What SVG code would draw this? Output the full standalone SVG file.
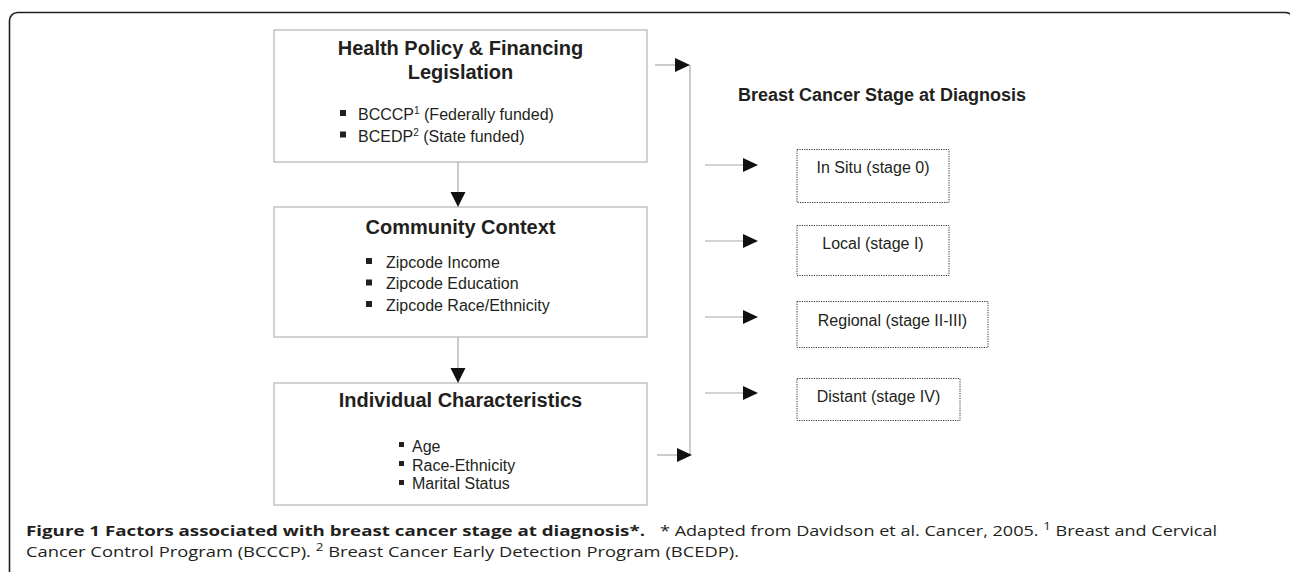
<svg xmlns="http://www.w3.org/2000/svg" width="1290" height="572" viewBox="0 0 1290 572">
<style>
.box{fill:#fff;stroke:#b3b3b3;stroke-width:1.2}
.stage{fill:#fff;stroke:#333;stroke-width:1;stroke-dasharray:1.2,1.2}
.h{font-family:"Liberation Sans",Arial,sans-serif;font-weight:bold;font-size:20px;fill:#231f20}
.t{font-family:"Liberation Sans",Arial,sans-serif;font-size:16px;fill:#231f20}
.sup{font-size:10px}
.bul{fill:#231f20}
.ln{stroke:#aaa;stroke-width:1.2;fill:none}
.cap{font-family:"Open Sans","Noto Sans",sans-serif;font-size:15px;fill:#231f20}
</style>
<defs>
<polygon id="ah" points="0,-7 15,0 0,7" fill="#111"/>
<polygon id="av" points="-7.5,0 7.5,0 0,15" fill="#111"/>
</defs>
<rect x="9.5" y="12.5" width="1284" height="600" rx="8" fill="none" stroke="#231f20" stroke-width="1.6"/>

<g id="node-policy">
<rect class="box" x="274" y="30" width="373" height="132"/>
<text class="h" x="460.5" y="55" text-anchor="middle">Health Policy &amp; Financing</text>
<text class="h" x="460.5" y="79" text-anchor="middle">Legislation</text>
<rect class="bul" x="340" y="110" width="6" height="6"/>
<text class="t" x="358" y="120">BCCCP<tspan class="sup" dy="-6">1</tspan><tspan dy="6"> (Federally funded)</tspan></text>
<rect class="bul" x="340" y="131.5" width="6" height="6"/>
<text class="t" x="358" y="141.5">BCEDP<tspan class="sup" dy="-6">2</tspan><tspan dy="6"> (State funded)</tspan></text>
</g>

<g id="node-community">
<rect class="box" x="274" y="207" width="373" height="130"/>
<text class="h" x="460.5" y="234" text-anchor="middle">Community Context</text>
<rect class="bul" x="366" y="258" width="6" height="6"/>
<text class="t" x="386" y="267.5">Zipcode Income</text>
<rect class="bul" x="366" y="279.5" width="6" height="6"/>
<text class="t" x="386" y="289.3">Zipcode Education</text>
<rect class="bul" x="366" y="301" width="6" height="6"/>
<text class="t" x="386" y="311">Zipcode Race/Ethnicity</text>
</g>

<g id="node-individual">
<rect class="box" x="274" y="383" width="373" height="122"/>
<text class="h" x="460.5" y="407" text-anchor="middle">Individual Characteristics</text>
<rect class="bul" x="399" y="442" width="5" height="5"/>
<text class="t" x="412" y="451.7">Age</text>
<rect class="bul" x="399" y="461" width="5" height="5"/>
<text class="t" x="412" y="470.7">Race-Ethnicity</text>
<rect class="bul" x="399" y="480" width="5" height="5"/>
<text class="t" x="412" y="489.3">Marital Status</text>
</g>

<g id="node-outcome-title">
<text class="h" x="738" y="101" style="font-size:18px">Breast Cancer Stage at Diagnosis</text>
</g>

<g id="node-insitu">
<rect class="stage" x="797" y="149.5" width="152" height="53"/>
<text class="t" x="873" y="173" text-anchor="middle">In Situ (stage 0)</text>
</g>
<g id="node-local">
<rect class="stage" x="797" y="225.5" width="152" height="50"/>
<text class="t" x="873" y="249" text-anchor="middle">Local (stage I)</text>
</g>
<g id="node-regional">
<rect class="stage" x="797" y="301.5" width="191" height="46"/>
<text class="t" x="892.5" y="326" text-anchor="middle">Regional (stage II-III)</text>
</g>
<g id="node-distant">
<rect class="stage" x="797" y="378.5" width="163" height="42"/>
<text class="t" x="878.5" y="402" text-anchor="middle">Distant (stage IV)</text>
</g>

<g id="connectors">
<line class="ln" x1="458" y1="162" x2="458" y2="192"/>
<use href="#av" x="458" y="192"/>
<line class="ln" x1="458" y1="337" x2="458" y2="368"/>
<use href="#av" x="458" y="368"/>
<line class="ln" x1="690" y1="65" x2="690" y2="455"/>
<line class="ln" x1="655" y1="65" x2="675" y2="65"/>
<use href="#ah" x="675" y="65"/>
<line class="ln" x1="657" y1="455" x2="677" y2="455"/>
<use href="#ah" x="677" y="455"/>
<line class="ln" x1="705" y1="165" x2="743" y2="165"/>
<use href="#ah" x="743" y="165"/>
<line class="ln" x1="705" y1="241" x2="743" y2="241"/>
<use href="#ah" x="743" y="241"/>
<line class="ln" x1="705" y1="317" x2="743" y2="317"/>
<use href="#ah" x="743" y="317"/>
<line class="ln" x1="705" y1="393" x2="743" y2="393"/>
<use href="#ah" x="743" y="393"/>
</g>

<g id="caption">
<text class="cap" x="26" y="536" font-weight="bold" textLength="619" lengthAdjust="spacingAndGlyphs">Figure 1 Factors associated with breast cancer stage at diagnosis*.</text>
<text class="cap" x="660" y="536" textLength="557" lengthAdjust="spacingAndGlyphs">* Adapted from Davidson et al. Cancer, 2005. <tspan font-size="11" dy="-6">1</tspan><tspan dy="6"> Breast and Cervical</tspan></text>
<text class="cap" x="26" y="557" textLength="713" lengthAdjust="spacingAndGlyphs">Cancer Control Program (BCCCP). <tspan font-size="11" dy="-6">2</tspan><tspan dy="6"> Breast Cancer Early Detection Program (BCEDP).</tspan></text>
</g>
</svg>
